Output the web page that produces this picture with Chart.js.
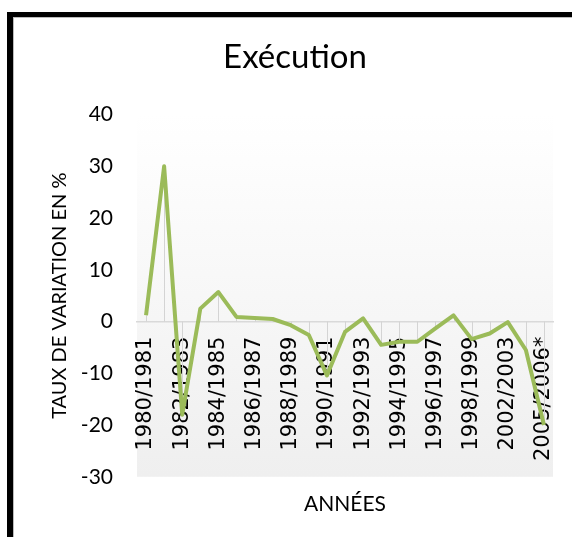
<!DOCTYPE html>
<html>
<head>
<meta charset="utf-8">
<script src="https://cdn.jsdelivr.net/npm/chart.js@4"></script>
<style>
    body { margin: 0; background: #fff; }
    #wrap { position: relative; width: 572px; height: 537px; overflow: hidden; }
    #chartCanvas { position: absolute; left: 0; top: 0; }
    #frame { position: absolute; left: 7px; top: 12px; width: 700px; height: 700px;
             border-left: 6px solid #000; border-top: 5px solid #000; }
    #frame div { width: 100%; height: 100%; border-left: 1px solid #bbb; border-top: 1px solid #bbb; }
</style>
</head>
<body>
<div id="wrap">
    <canvas id="chartCanvas" width="572" height="537"></canvas>
    <div id="frame"><div></div></div>
</div>
<script>
const years = [
    "1980/1981", "1981/1982", "1982/1983", "1983/1984", "1984/1985", "1985/1986",
    "1986/1987", "1987/1988", "1988/1989", "1989/1990", "1990/1991", "1991/1992",
    "1992/1993", "1993/1994", "1994/1995", "1995/1996", "1996/1997", "1997/1998",
    "1998/1999", "2000/2001", "2002/2003", "2003/2004", "2005/2006*"
];
const variation = [
    1.2, 30, -18, 2.5, 5.7, 0.9,
    0.7, 0.5, -0.7, -2.6, -10.4, -2.0,
    0.6, -4.5, -3.9, -3.9, -1.3, 1.2,
    -3.4, -2.3, -0.1, -5.5, -20
];
const yTicks = { min: -30, max: 40, step: 10 };

// fond du graphique en dégradé (blanc -> gris clair)
const plotBackground = {
    id: "plotBackground",
    beforeDraw(chart) {
        const { ctx, chartArea } = chart;
        const grad = ctx.createLinearGradient(0, chartArea.top, 0, chartArea.bottom);
        grad.addColorStop(0, "#ffffff");
        grad.addColorStop(1, "#efefef");
        ctx.save();
        ctx.fillStyle = grad;
        ctx.fillRect(chartArea.left, chartArea.top, chartArea.right - chartArea.left, chartArea.bottom - chartArea.top);
        ctx.restore();
    }
};

// lignes de projection (point -> axe à 0)
const dropLines = {
    id: "dropLines",
    beforeDatasetsDraw(chart) {
        const { ctx } = chart;
        const xs = chart.scales.x;
        const ys = chart.scales.y;
        const y0 = ys.getPixelForValue(0);
        ctx.save();
        ctx.strokeStyle = "#d4d4d4";
        ctx.lineWidth = 1;
        variation.forEach((v, i) => {
            const x = Math.round(xs.getPixelForValue(i)) + 0.5;
            ctx.beginPath();
            ctx.moveTo(x, y0);
            ctx.lineTo(x, ys.getPixelForValue(v));
            ctx.stroke();
        });
        ctx.restore();
    }
};

const noSidePadding = (scale) => {
    scale.paddingLeft = 0;
    scale.paddingRight = 0;
};

new Chart(document.getElementById("chartCanvas").getContext("2d"), {
    type: "line",
    data: {
        labels: years,
        datasets: [{
            label: "Exécution",
            data: variation,
            borderColor: "#9bbb59",
            borderWidth: 4,
            borderJoinStyle: "round",
            fill: false,
            tension: 0,
            pointRadius: 0
        }]
    },
    options: {
        responsive: false,
        animation: false,
        layout: { padding: { left: 37, right: 19, top: 20, bottom: 5 } },
        plugins: {
            legend: { display: false },
            tooltip: { enabled: false },
            title: {
                display: true,
                text: "Exécution",
                color: "#000",
                font: { family: "Lato", size: 33, weight: "normal" },
                padding: { top: 18, bottom: 37 }
            }
        },
        scales: {
            x: {
                type: "category",
                position: { y: 0 },
                offset: true,
                afterFit: noSidePadding,
                grid: { display: false, drawTicks: false },
                border: { display: true, color: "#d9d9d9", width: 1.5 },
                ticks: {
                    autoSkip: false,
                    minRotation: 90,
                    maxRotation: 90,
                    padding: 15,
                    color: "#000",
                    font: { family: "DejaVu Sans", size: 21 },
                    callback: function (val, i) {
                        return i % 2 === 0 ? this.getLabelForValue(val) : "";
                    }
                }
            },
            xTitle: {
                type: "category",
                position: "bottom",
                afterFit: noSidePadding,
                grid: { display: false, drawTicks: false },
                border: { display: false },
                ticks: { display: false },
                title: {
                    display: true,
                    text: "ANNÉES",
                    color: "#000",
                    font: { family: "Lato", size: 21 },
                    padding: { top: 15, bottom: 15 }
                }
            },
            y: {
                min: yTicks.min,
                max: yTicks.max,
                grid: { display: false, drawTicks: false },
                border: { display: false },
                afterFit(scale) { scale.width = 100; },
                ticks: {
                    stepSize: yTicks.step,
                    padding: 24,
                    color: "#000",
                    font: { family: "Lato", size: 21 }
                },
                title: {
                    display: true,
                    text: "TAUX DE VARIATION EN %",
                    color: "#000",
                    font: { family: "Lato", size: 20 },
                    padding: { top: 11, bottom: 0 }
                }
            }
        }
    },
    plugins: [plotBackground, dropLines]
});
</script>
</body>
</html>
